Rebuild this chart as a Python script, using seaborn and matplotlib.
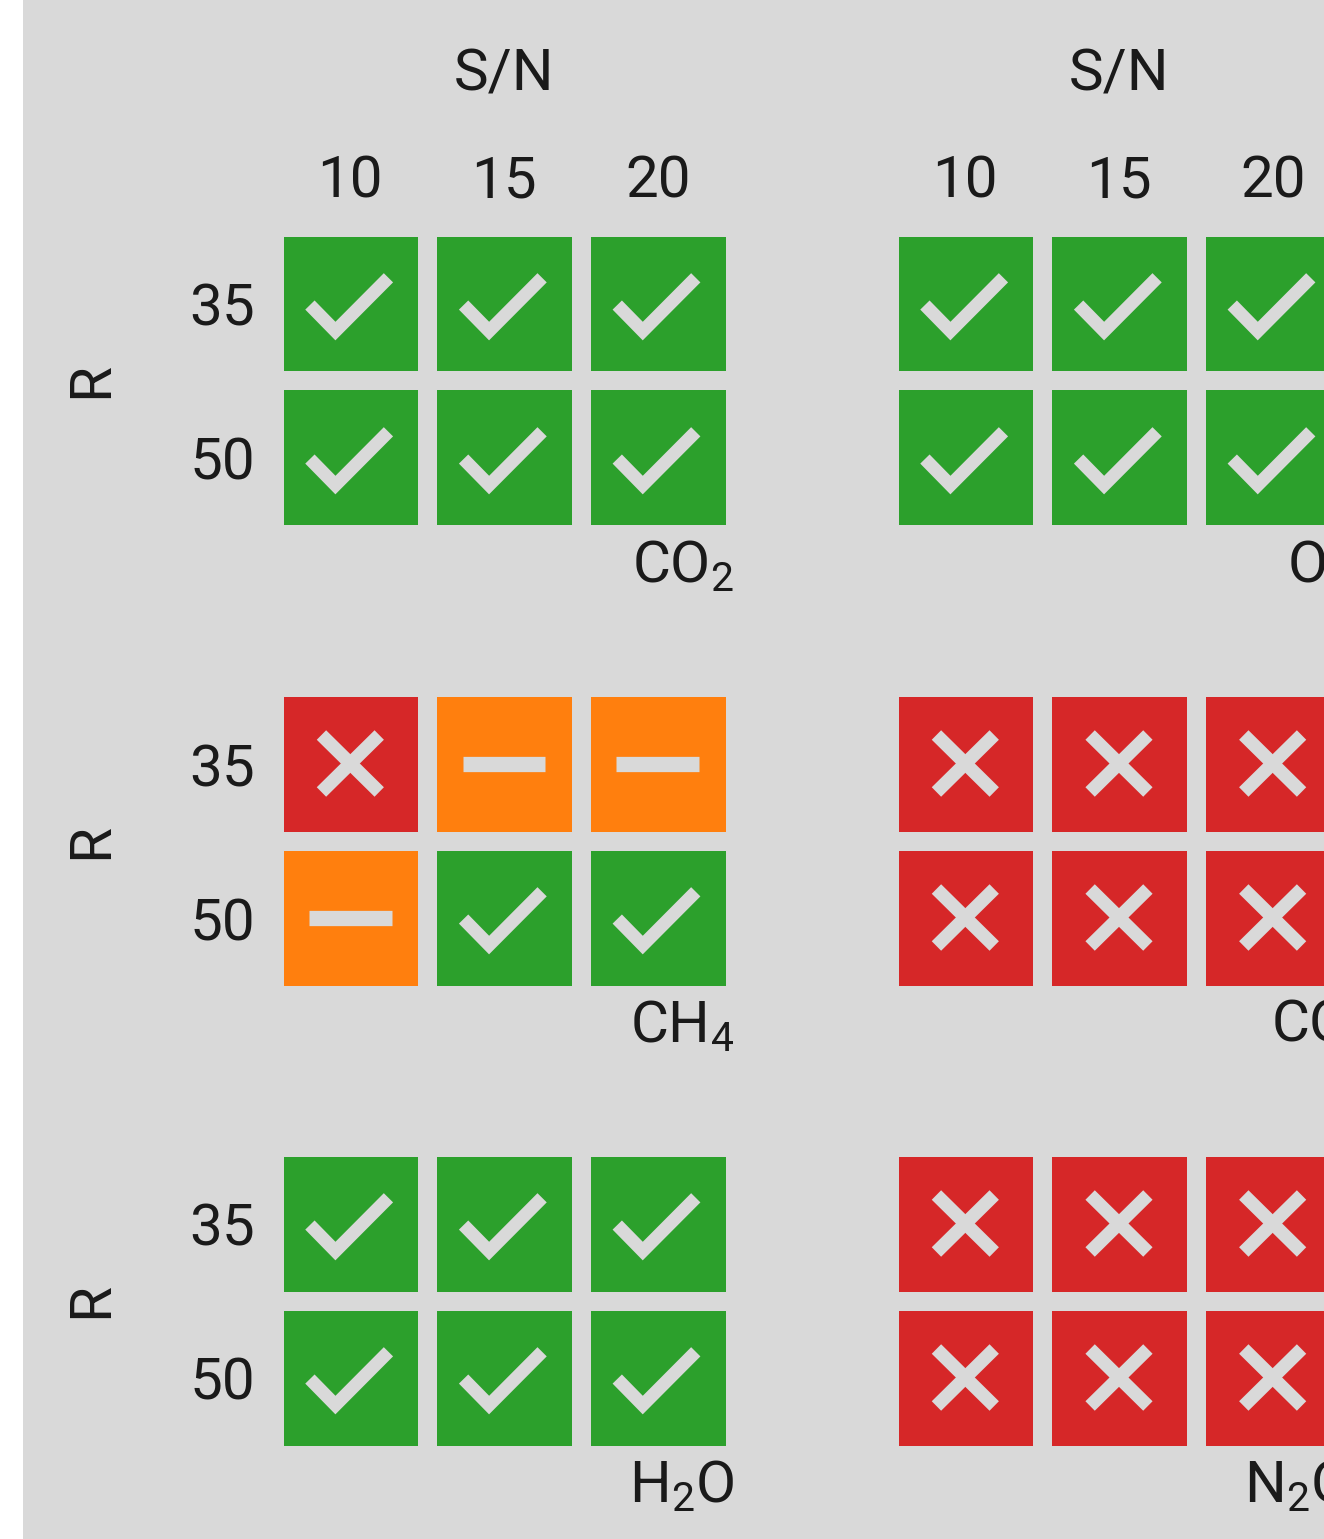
import numpy as np
import matplotlib
matplotlib.use("Agg")
import matplotlib.pyplot as plt
from matplotlib.colors import ListedColormap
from matplotlib.patches import Rectangle
from matplotlib.transforms import ScaledTranslation
import seaborn as sns

# status codes: 0 = fail, 1 = partial, 2 = pass
sn_values = ["10", "15", "20"]
r_values = ["35", "50"]

gases = ["CO$_2$", "O$_3$", "CH$_4$", "CO", "H$_2$O", "N$_2$O"]
co2 = [[2, 2, 2], [2, 2, 2]]
o3 = [[2, 2, 2], [2, 2, 2]]
ch4 = [[0, 1, 1], [1, 2, 2]]
co = [[0, 0, 0], [0, 0, 0]]
h2o = [[2, 2, 2], [2, 2, 2]]
n2o = [[0, 0, 0], [0, 0, 0]]
results = [co2, o3, ch4, co, h2o, n2o]

BG = "#d9d9d9"
INK = "#1a1a1a"
status_colors = ["#d62728", "#ff7f0e", "#2ca02c"]

sns.set_theme(style="white")
plt.rcParams["font.family"] = ["Roboto", "DejaVu Sans"]
plt.rcParams["mathtext.default"] = "regular"

W, H = 1324, 1539
fig = plt.figure(figsize=(W / 100, H / 100), dpi=100)
fig.patch.set_facecolor("white")
fig.add_artist(Rectangle((23 / W, 0), 1, 1, transform=fig.transFigure,
                         facecolor=BG, edgecolor="none", zorder=-10))

# mark shapes relative to cell centre (data units)
check = np.array([[-0.263, 0.01], [-0.097, 0.179], [0.248, -0.167]])
cross_a = np.array([[-0.188, -0.185], [0.188, 0.185]])
cross_b = np.array([[-0.188, 0.185], [0.188, -0.185]])
dash = np.array([[-0.27, 0.0], [0.27, 0.0]])

lefts = [273.5, 888.5]
tops = [226.5, 686.5, 1146.5]
aw, ah = 461, 308
fs = 42

for k, (gas, data) in enumerate(zip(gases, results)):
    row, col = divmod(k, 2)
    ax = fig.add_axes([lefts[col] / W, 1 - (tops[row] + ah) / H, aw / W, ah / H])
    ax.set_facecolor(BG)
    df = np.array(data)
    sns.heatmap(df, ax=ax, cmap=ListedColormap(status_colors), vmin=-0.5, vmax=2.5,
                cbar=False, linewidths=12.5, linecolor=BG,
                xticklabels=sn_values if row == 0 else False,
                yticklabels=r_values if col == 0 else False)
    for i in range(df.shape[0]):
        for j in range(df.shape[1]):
            cx, cy = j + 0.5, i + 0.5
            v = df[i, j]
            if v == 2:
                ax.plot(cx + check[:, 0], cy + check[:, 1], color=BG, lw=9.4,
                        solid_capstyle="butt", solid_joinstyle="miter")
            elif v == 0:
                for seg in (cross_a, cross_b):
                    ax.plot(cx + seg[:, 0], cy + seg[:, 1], color=BG, lw=9.6,
                            solid_capstyle="butt")
            else:
                ax.plot(cx + dash[:, 0], cy + dash[:, 1], color=BG, lw=11,
                        solid_capstyle="butt")
    ax.xaxis.tick_top()
    ax.tick_params(axis="x", length=0, pad=12, labelsize=fs, colors=INK)
    ax.tick_params(axis="y", length=0, pad=13, labelsize=fs, colors=INK,
                   labelrotation=0)
    shift = ScaledTranslation(0, -7 / 100, fig.dpi_scale_trans)
    for lbl in ax.get_yticklabels():
        lbl.set_transform(lbl.get_transform() + shift)
    ax.set_xlabel("")
    ax.set_ylabel("")
    if row == 0:
        ax.xaxis.set_label_position("top")
        ax.set_xlabel("S/N", fontsize=fs, va="center", color=INK)
        ax.xaxis.set_label_coords(0.5, 1 + (226.5 - 75) / ah)
    if col == 0:
        ax.set_ylabel("R", fontsize=fs, va="center", color=INK)
        ax.yaxis.set_label_coords(-(273.5 - 92) / aw, 0.5)
    ax.text(1.0, -0.153, gas, transform=ax.transAxes, ha="right", va="baseline",
            fontsize=fs, color=INK)

fig.savefig("out.png", dpi=100, facecolor=fig.get_facecolor())
